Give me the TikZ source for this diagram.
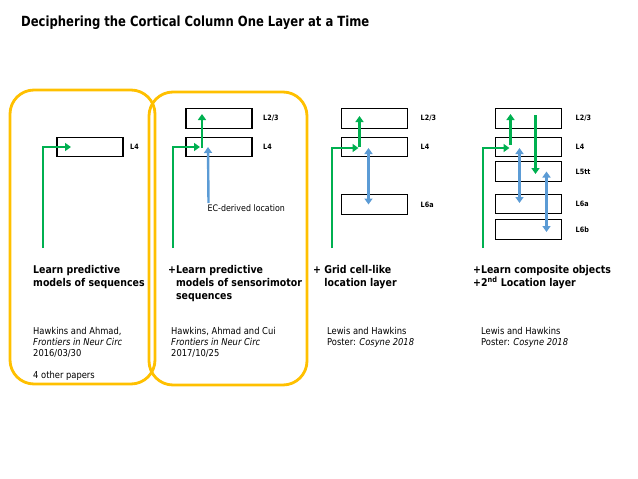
\documentclass[tikz,border=0pt]{standalone}
\usepackage{fontspec}
\setmainfont{DejaVu Sans}[FakeStretch=0.88]
\newfontfamily\titlefont{DejaVu Sans}[FakeStretch=0.83]
\usetikzlibrary{positioning, arrows.meta}
\definecolor{ffgreen}{RGB}{0,176,80}
\definecolor{locblue}{RGB}{91,155,213}
\definecolor{frameyellow}{RGB}{255,192,0}
\tikzstyle{layer} = [rectangle, draw=black, line width=1.4pt, minimum width=66pt, minimum height=19.5pt, inner sep=0pt, outer sep=0pt]
\tikzstyle{lname} = [font=\fontsize{7.3}{8}\selectfont\bfseries, inner sep=0pt]
\tikzstyle{ff} = [ffgreen, line width=2.4pt, -{Triangle[width=8pt,length=6pt]}]
\tikzstyle{loc} = [locblue, line width=2.4pt, -{Triangle[width=8pt,length=6pt]}]
\tikzstyle{loc2} = [locblue, line width=2.4pt, {Triangle[width=8pt,length=6pt]}-{Triangle[width=8pt,length=6pt]}]
\tikzstyle{frame} = [frameyellow, line width=2.8pt, rounded corners=24pt]
\tikzstyle{head} = [font=\fontsize{10.7}{13}\selectfont\bfseries, align=left, anchor=base west, inner sep=0pt]
\tikzstyle{cite} = [font=\fontsize{9.5}{11}\selectfont, align=left, anchor=base west, inner sep=0pt]

\begin{document}
\begin{tikzpicture}[x=1pt, y=-1pt]
\useasboundingbox (0,0) rectangle (638,479);

\node (title) [anchor=base west, inner sep=0pt, font=\titlefont\fontsize{14}{17}\selectfont\bfseries] at (21,27) {Deciphering the Cortical Column One Layer at a Time};

% the two highlighted columns
\draw [frame] (10,90) rectangle (155,384);
\draw [frame] (149,92) rectangle (307,385);

% column 1
\node (l4a) [layer] at (90,147) {};
\node (l4aname) [lname, right=7pt of l4a] {L4};
\coordinate (ina) at (43,248);
\draw [ff] (ina) |- ([xshift=14pt]l4a.west);

% column 2
\node (l4b) [layer] at (219,147) {};
\node (l23b) [layer, above=9pt of l4b] {};
\node (l4bname) [lname, right=11pt of l4b] {L4};
\node (l23bname) [lname, right=11pt of l23b] {L2/3};
\node (ec) [anchor=north west, inner sep=0pt, font=\fontsize{9}{10}\selectfont] at (207.5,204) {EC-derived location};
\coordinate (inb) at (173,248);
\draw [ff] (inb) |- ([xshift=14pt]l4b.west);
\draw [ff] ([xshift=16pt,yshift=-1pt]l4b.west) -- ([xshift=16pt,yshift=4.5pt]l23b.west);
\draw [loc] ([xshift=1pt,yshift=1pt]ec.north west) -- ([xshift=22pt]l4b.west);

% column 3
\node (l4c) [layer] at (374.5,147) {};
\node (l23c) [layer, above=9pt of l4c] {};
\node (l6c) [layer, below=38pt of l4c] {};
\node (l23cname) [lname, right=13pt of l23c] {L2/3};
\node (l4cname) [lname, right=13pt of l4c] {L4};
\node (l6cname) [lname, right=13pt of l6c] {L6a};
\coordinate (inc) at (332,248);
\draw [ff] (inc) |- ([xshift=17pt,yshift=-1pt]l4c.west);
\draw [ff] ([xshift=18pt]l4c.west) -- ([xshift=18pt,yshift=2.5pt]l23c.west);
\draw [loc2] ([xshift=27pt,yshift=-1pt]l4c.west) -- ([xshift=27pt]l6c.west);

% column 4
\node (l4d) [layer] at (528.5,147) {};
\node (l23d) [layer, above=9pt of l4d] {};
\node (l5d) [layer, below=5pt of l4d] {};
\node (l6ad) [layer, below=13pt of l5d] {};
\node (l6bd) [layer, below=6pt of l6ad] {};
\node (l23dname) [lname, right=14pt of l23d] {L2/3};
\node (l4dname) [lname, right=14pt of l4d] {L4};
\node (l5dname) [lname, right=14pt of l5d] {L5tt};
\node (l6adname) [lname, right=14pt of l6ad] {L6a};
\node (l6bdname) [lname, right=14pt of l6bd] {L6b};
\coordinate (ind) at (483,248);
\draw [ff] (ind) |- ([xshift=14pt,yshift=-1pt]l4d.west);
\draw [ff] ([xshift=15pt,yshift=2pt]l4d.west) -- ([xshift=15pt,yshift=4.5pt]l23d.west);
\draw [ff] ([xshift=40pt,yshift=3.5pt]l23d.west) -- ([xshift=40pt,yshift=-2.5pt]l5d.west);
\draw [loc2] ([xshift=24pt,yshift=-1pt]l4d.west) -- ([xshift=24pt,yshift=1pt]l6ad.west);
\draw [loc2] ([xshift=51pt]l5d.west) -- ([xshift=51pt,yshift=-2.5pt]l6bd.west);

% what each stage learns (placed by the baseline of the last line)
\node (heada) [head] at (33,286) {Learn predictive\\models of sequences};
\node (headb) [head] at (168,299) {+Learn predictive\\\phantom{+}models of sensorimotor\\\phantom{+}sequences};
\node (headc) [head] at (313,286) {+ Grid cell-like\\\phantom{+ }location layer};
\node (headd) [head] at (473,286) {+Learn composite objects\\+2\textsuperscript{nd} Location layer};

% papers
\node (citea) [cite] at (33,378) {Hawkins and Ahmad,\\\textit{Frontiers in Neur Circ}\\2016/03/30\\[11pt]4 other papers};
\node (citeb) [cite] at (171,356) {Hawkins, Ahmad and Cui\\\textit{Frontiers in Neur Circ}\\2017/10/25};
\node (citec) [cite] at (327,345) {Lewis and Hawkins\\Poster: \textit{Cosyne 2018}};
\node (cited) [cite] at (481,345) {Lewis and Hawkins\\Poster: \textit{Cosyne 2018}};
\end{tikzpicture}
\end{document}
